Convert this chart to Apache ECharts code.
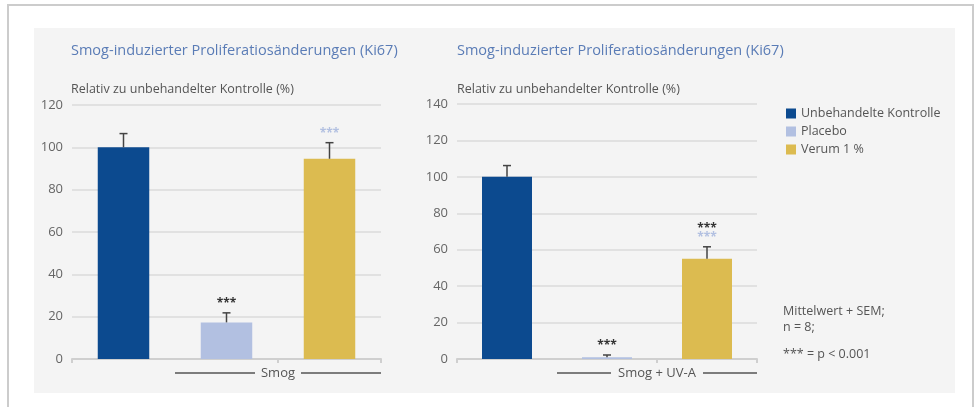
<!DOCTYPE html>
<html>
<head>
    <meta charset="utf-8">
    <title>Smog Ki67</title>
    <script src="https://cdn.jsdelivr.net/npm/echarts@6/dist/echarts.min.js"></script>
</head>
<body style="margin:0;background:#fff;">
    <div id="demo" style="width: 979px;height:407px;"></div>
    <script type="text/javascript">
        // data
        var groups = ['Unbehandelte Kontrolle', 'Placebo', 'Verum 1 %'];
        var colors = ['#0c4a8f', '#b2c0e1', '#dcbb50'];
        var smogValues = [100, 17.3, 94.6];
        var smogErrors = [6.5, 4.5, 7.6];
        var uvaValues = [100, 1, 55];
        var uvaErrors = [6.2, 1.2, 6.6];
        // stars: vs control (black) / vs placebo (light blue)
        var smogStarsCtrl = ['', '***', ''];
        var smogStarsPlac = ['', '', '***'];
        var uvaStarsCtrl = ['', '***', '***'];
        var uvaStarsPlac = ['', '', '***'];

        var dom = document.getElementById('demo');
        var chart = echarts.init(dom);
        var font = '"Open Sans", sans-serif';

        function barSeries(gi, values) {
            return groups.map(function (name, i) {
                return {
                    name: name,
                    type: 'bar',
                    xAxisIndex: gi,
                    yAxisIndex: gi,
                    stack: 'g' + gi,
                    barWidth: '50%',
                    itemStyle: { color: colors[i] },
                    data: values.map(function (v, j) { return j === i ? v : '-'; })
                };
            });
        }

        function errSeries(gi, values, errors, ctrl, plac) {
            return {
                type: 'custom',
                xAxisIndex: gi,
                yAxisIndex: gi,
                z: 5,
                data: values.map(function (v, i) { return [i, v, errors[i]]; }),
                renderItem: function (params, api) {
                    var i = api.value(0);
                    var base = api.coord([i, api.value(1)]);
                    var top = api.coord([i, api.value(1) + api.value(2)]);
                    var children = [
                        { type: 'line', shape: { x1: base[0], y1: base[1], x2: top[0], y2: top[1] }, style: { stroke: '#444', lineWidth: 1.5 } },
                        { type: 'line', shape: { x1: top[0] - 4, y1: top[1], x2: top[0] + 4, y2: top[1] }, style: { stroke: '#444', lineWidth: 1.5 } }
                    ];
                    var y = top[1] - 3;
                    if (plac[i]) {
                        children.push({ type: 'text', x: top[0], y: y, style: { text: plac[i], fill: '#b2c0e1', font: 'bold 12px ' + font, align: 'center', verticalAlign: 'bottom' } });
                        y -= 9;
                    }
                    if (ctrl[i]) {
                        children.push({ type: 'text', x: top[0], y: y, style: { text: ctrl[i], fill: '#333', font: 'bold 12px ' + font, align: 'center', verticalAlign: 'bottom' } });
                    }
                    return { type: 'group', children: children };
                }
            };
        }

        function xAxis(gi) {
            return {
                type: 'category',
                gridIndex: gi,
                data: groups,
                axisLabel: { show: false },
                axisLine: { lineStyle: { color: '#cfcfcf', width: 2 } },
                axisTick: { show: true, length: 4, lineStyle: { color: '#cfcfcf', width: 2 } }
            };
        }

        function yAxis(gi, max) {
            return {
                type: 'value',
                gridIndex: gi,
                min: 0,
                max: max,
                interval: 20,
                axisLine: { show: false },
                axisTick: { show: false },
                axisLabel: { color: '#666', fontSize: 13, fontFamily: font, margin: 9 },
                splitLine: { lineStyle: { color: '#e1e1e1', width: 2 } }
            };
        }

        function bracket(x1, x2, y, text, gap) {
            var mid = (x1 + x2) / 2;
            return [
                { type: 'line', shape: { x1: x1, y1: y, x2: mid - gap, y2: y }, style: { stroke: '#555', lineWidth: 1.5 } },
                { type: 'line', shape: { x1: mid + gap, y1: y, x2: x2, y2: y }, style: { stroke: '#555', lineWidth: 1.5 } },
                { type: 'text', x: mid, y: y, style: { text: text, fill: '#555', font: '13px ' + font, align: 'center', verticalAlign: 'middle' } }
            ];
        }

        var option = {
            backgroundColor: '#fff',
            animation: false,
            textStyle: { fontFamily: font },
            graphic: [
                { type: 'rect', z: -10, shape: { x: 8, y: 5, width: 965, height: 410 }, style: { fill: '#fff', stroke: '#cccccc', lineWidth: 2 } },
                { type: 'rect', z: -9, shape: { x: 34, y: 28, width: 921, height: 365 }, style: { fill: '#f4f4f4' } }
            ].concat(bracket(175, 381, 373, 'Smog', 23)).concat(bracket(557, 757, 373, 'Smog + UV-A', 46)).concat([
                { type: 'text', left: 783, top: 303, style: { text: 'Mittelwert + SEM;\nn = 8;', fill: '#555', font: '12.5px ' + font, lineHeight: 16 } },
                { type: 'text', left: 783, top: 348, style: { text: '*** = p < 0.001', fill: '#555', font: '12.5px ' + font } }
            ]),
            title: [
                { text: 'Smog-induzierter Proliferatiosänderungen (Ki67)', left: 66, top: 38, textStyle: { color: '#5a7cb6', fontSize: 14.5, fontWeight: 'normal', fontFamily: font } },
                { text: 'Relativ zu unbehandelter Kontrolle (%)', left: 66, top: 78, textStyle: { color: '#555', fontSize: 12.5, fontWeight: 'normal', fontFamily: font } },
                { text: 'Smog-induzierter Proliferatiosänderungen (Ki67)', left: 452, top: 38, textStyle: { color: '#5a7cb6', fontSize: 14.5, fontWeight: 'normal', fontFamily: font } },
                { text: 'Relativ zu unbehandelter Kontrolle (%)', left: 452, top: 78, textStyle: { color: '#555', fontSize: 12.5, fontWeight: 'normal', fontFamily: font } }
            ],
            legend: {
                data: groups,
                orient: 'vertical',
                left: 781,
                top: 102,
                icon: 'rect',
                itemWidth: 10,
                itemHeight: 10,
                itemGap: 5,
                textStyle: { color: '#555', fontSize: 12.5, fontFamily: font }
            },
            grid: [
                { left: 72, right: 598, top: 105, bottom: 48 },
                { left: 457, right: 222, top: 104, bottom: 48 }
            ],
            xAxis: [xAxis(0), xAxis(1)],
            yAxis: [yAxis(0, 120), yAxis(1, 140)],
            series: barSeries(0, smogValues)
                .concat(barSeries(1, uvaValues))
                .concat([
                    errSeries(0, smogValues, smogErrors, smogStarsCtrl, smogStarsPlac),
                    errSeries(1, uvaValues, uvaErrors, uvaStarsCtrl, uvaStarsPlac)
                ])
        };

        chart.setOption(option);
    </script>
</body>
</html>
